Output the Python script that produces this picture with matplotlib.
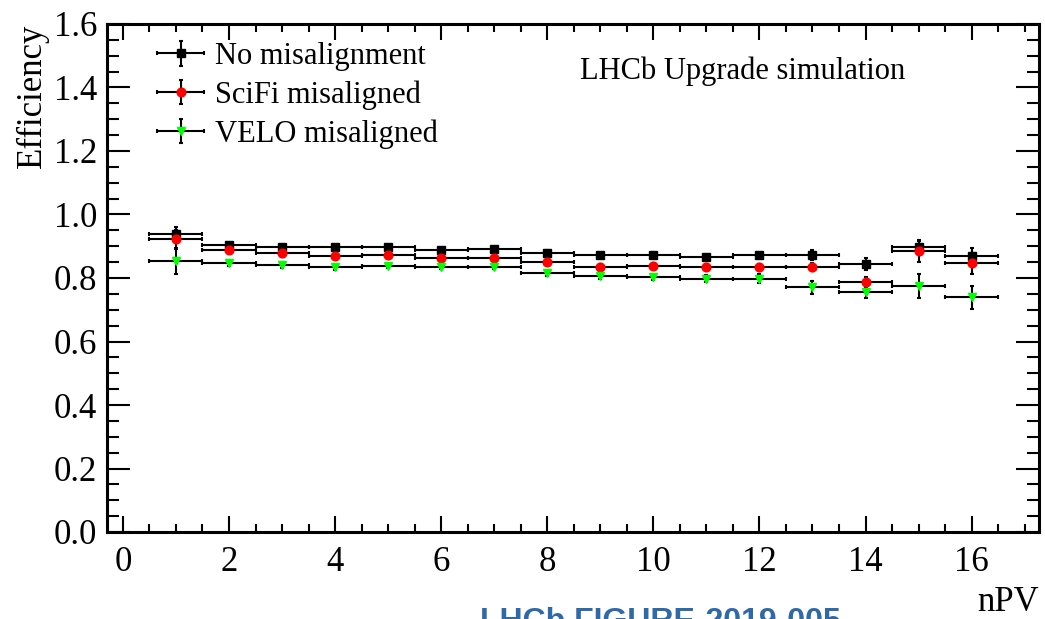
import numpy as np
import matplotlib
matplotlib.use('Agg')
import matplotlib.pyplot as plt
from matplotlib.ticker import MultipleLocator
from matplotlib.legend_handler import HandlerErrorbar

plt.rcParams['font.family'] = ['Liberation Serif', 'DejaVu Serif']

# Datos (bins de nPV)
npv = np.arange(1, 17)
npv_err = np.full(16, 0.5)

eff_nomis = [0.939, 0.904, 0.897, 0.898, 0.898, 0.887, 0.892, 0.880,
             0.872, 0.872, 0.865, 0.872, 0.872, 0.844, 0.897, 0.869]
err_nomis = [0.023, 0.007, 0.006, 0.006, 0.006, 0.006, 0.006, 0.007,
             0.007, 0.007, 0.007, 0.008, 0.016, 0.018, 0.023, 0.026]

eff_scifi = [0.922, 0.889, 0.878, 0.868, 0.872, 0.862, 0.864, 0.849,
             0.836, 0.838, 0.836, 0.836, 0.834, 0.788, 0.884, 0.846]
err_scifi = [0.030, 0.008, 0.007, 0.007, 0.007, 0.007, 0.007, 0.008,
             0.008, 0.008, 0.008, 0.009, 0.013, 0.016, 0.033, 0.034]

eff_velo = [0.854, 0.846, 0.841, 0.834, 0.838, 0.836, 0.836, 0.815,
            0.806, 0.804, 0.798, 0.798, 0.771, 0.757, 0.775, 0.739]
err_velo = [0.042, 0.008, 0.008, 0.008, 0.008, 0.008, 0.009, 0.009,
            0.009, 0.010, 0.010, 0.014, 0.021, 0.021, 0.037, 0.037]

labels = ['No misalignment', 'SciFi misaligned', 'VELO misaligned']
markers = ['s', 'o', 'v']
colores = ['black', 'red', '#00ff00']

fig = plt.figure(figsize=(10.45, 6.19), dpi=100)
ax = fig.add_axes([107 / 1045, 1 - 532 / 619, (1039 - 107) / 1045, (532 - 24) / 619])

series = [(eff_nomis, err_nomis), (eff_scifi, err_scifi), (eff_velo, err_velo)]
for (eff, err), lab, mk, col in zip(series, labels, markers, colores):
    ax.errorbar(npv, eff, xerr=npv_err, yerr=err, fmt=mk, color='black',
                ecolor='black', elinewidth=1.5, capsize=1.5, capthick=1.5,
                markerfacecolor=col, markeredgecolor=col, markersize=6.3,
                label=lab)

ax.set_xlim(-0.3, 17.27)
ax.set_ylim(0.0, 1.6)

ax.xaxis.set_major_locator(MultipleLocator(2))
ax.xaxis.set_minor_locator(MultipleLocator(0.5))
ax.yaxis.set_major_locator(MultipleLocator(0.2))
ax.yaxis.set_minor_locator(MultipleLocator(0.05))
ax.yaxis.set_major_formatter(matplotlib.ticker.FormatStrFormatter('%.1f'))

ax.tick_params(axis='both', which='both', direction='in', top=True, right=True, width=1.5)
ax.tick_params(axis='x', which='major', length=11.5, pad=10, labelsize=25)
ax.tick_params(axis='x', which='minor', length=6)
ax.tick_params(axis='y', which='major', length=16.5, pad=7, labelsize=25)
ax.tick_params(axis='y', which='minor', length=8.5)
for sp in ax.spines.values():
    sp.set_linewidth(2.2)

ax.set_ylabel('Efficiency', fontsize=25, loc='top')
ax.yaxis.set_label_coords(-0.062, 1.0)
ax.set_xlabel('nPV', fontsize=25, loc='right')
ax.xaxis.set_label_coords(1.0, -0.106)

ax.legend(loc='upper left', bbox_to_anchor=(0.0536, 0.9646), frameon=False,
          fontsize=22, handlelength=1.55, handletextpad=0.35, labelspacing=0.31,
          borderpad=0, borderaxespad=0,
          handler_map={matplotlib.container.ErrorbarContainer:
                       HandlerErrorbar(xerr_size=0.76, yerr_size=0.4)})

ax.text(580, 1.45, 'LHCb Upgrade simulation', fontsize=22, va='center', ha='left',
        transform=matplotlib.transforms.blended_transform_factory(
            matplotlib.transforms.IdentityTransform(), ax.transData))

fig.text(480 / 1045, 1 - 630 / 619, 'LHCb FIGURE-2019-005', fontsize=23,
         fontweight='bold', color='#2f69a8', family='Liberation Sans',
         ha='left', va='baseline')

fig.savefig('out.png', dpi=100)
